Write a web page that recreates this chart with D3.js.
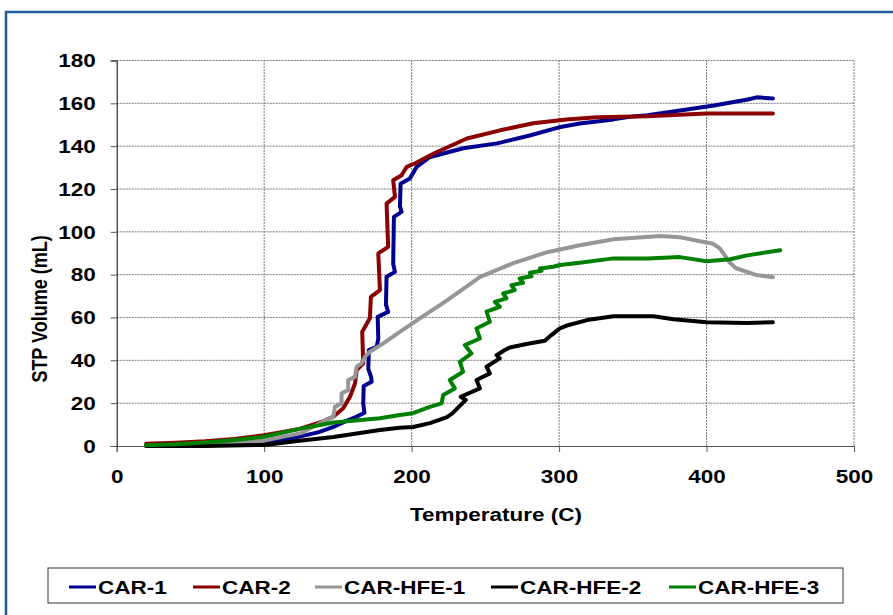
<!DOCTYPE html>
<html><head><meta charset="utf-8">
<script src="https://cdn.jsdelivr.net/npm/d3@7"></script>
<style>body{margin:0;background:#fff;}svg{display:block;font-family:"Liberation Sans",Arial,sans-serif;font-weight:bold;}</style>
</head><body>
<svg id="c" width="893" height="615"></svg>
<script>
// ---- data ----
const seriesNames = ["CAR-1","CAR-2","CAR-HFE-1","CAR-HFE-2","CAR-HFE-3"];
const seriesColors = ["#000090","#8B0000","#969696","#000000","#008000"];

const car1T = [20,40,60,80,100,115,125,137,147,155,162,168,167.2,167.5,172.9,172.5,170.6,171,176.3,177.4,177,184.1,182.6,183,188.7,187.5,188,193.2,192.1,192.5,198.8,203.4,212,235,258,280,300,314,337,350,360,382,405,428,434,445];
const car1V = [0,0,0.3,0.8,1.5,3,4.5,6.5,8.9,11.5,13.5,15.5,19.9,28,30,32.3,36,44.8,46.3,50,60.3,62.6,66,79,81.3,85,107,109.3,112,122.5,124.9,130.3,134.8,139,141.3,145,148.8,150.6,152.5,153.9,154.4,156.7,159,161.8,162.8,162.3];

const car2T = [20,40,60,80,100,124,140,146.9,153.6,158.2,161.6,162.7,167.2,166.5,171.7,172.4,178.5,177.4,184.1,183,188.7,187.5,193.2,196.6,202.2,215,237.5,260,282.5,305,325.5,360,400,445];
const car2V = [1,1.5,2.2,3.3,5,8,11.5,13.7,17.6,23,29.2,35.4,38.6,53.3,59.6,69.6,72.8,89.9,93,113.2,116.3,124.1,126.4,130.3,131.9,136.6,143.6,147.4,150.7,152.5,153.5,154,155.3,155.3];

const hfe1T = [20,60,100,125,137.8,146.9,148,152.5,152.5,157,157,161.6,162.7,166.1,168.3,171.7,180.8,192,205.6,224,246.5,269,292,314,337,368.6,382,400,404,409,416,420,434,445];
const hfe1V = [0,0.5,2.5,6,10.6,13.7,18.3,19.9,24.6,26.1,30.8,32.3,37,38.6,41.6,44,47.9,53.3,59.6,68,79,85.4,90.5,93.7,96.5,98,97.5,95,94.6,92.3,85.4,83,79.8,78.8];

const hfe2T = [20,60,100,124,147,178.5,192,201,212.5,224,227.6,236.7,233.3,246.3,244,253.1,250.8,259.8,257.6,263.2,266.6,277.9,290.3,294.8,300.5,306,319,337,364,377.6,400,427.6,445];
const hfe2V = [0,0,0.5,2.5,4.2,7.5,8.5,8.9,10.7,13.5,15.2,21.5,23,26.9,30.8,33.9,37,40.9,42.4,44.8,46,47.6,49.1,51.8,54.9,56.4,58.8,60.6,60.6,59.2,57.8,57.4,57.8];

const hfe3T = [20,40,60,80,100,124,147,178.5,192,201,212.4,220.3,221.4,229.3,225.9,234.9,232.7,240.6,236.1,246.3,244,253.1,250.8,259.8,256.4,264.3,262.1,270,267.7,275.6,273.3,281.3,280.2,288.1,287,296,300.5,314,337,360,382,400,416,427.6,450];
const hfe3V = [0.3,0.8,1.6,2.8,4.3,8,11,13,14.5,15.3,18.3,19.9,23.8,26.9,30.8,34.7,39.3,43.2,47.1,50.2,54.9,58,62.7,65,67.3,68.9,71.2,72.8,75.1,76.2,78.2,79.3,80.9,81.8,82.9,83.7,84.5,85.6,87.6,87.6,88.2,86.3,87.2,89,91.4];

const xTicks = [0,100,200,300,400,500];
const yTicks = [0,20,40,60,80,100,120,140,160,180];
const xTitle = "Temperature (C)";
const yTitle = "STP Volume (mL)";

const seriesT = [car1T,car2T,hfe1T,hfe2T,hfe3T];
const seriesV = [car1V,car2V,hfe1V,hfe2V,hfe3V];

// ---- drawing ----
const SX = 1.25; // horizontal stretch of the text in the reference
const svg = d3.select("#c");
svg.append("rect").attr("x",6).attr("y",12).attr("width",920).attr("height",640)
  .attr("fill","#fff").attr("stroke","#1F5C99").attr("stroke-width",2.5);

const x = d3.scaleLinear().domain([0,500]).range([116.7,854]);
const y = d3.scaleLinear().domain([0,180]).range([446,60.5]);

// gridlines
const grid = svg.append("g");
grid.selectAll("line.h").data(yTicks.filter(d=>d>0)).join("line")
  .attr("x1",x(0)).attr("x2",x(500)).attr("y1",d=>y(d)).attr("y2",d=>y(d))
  .attr("stroke","#7a7a7a").attr("stroke-width",1).attr("stroke-dasharray","2,1");
grid.selectAll("line.v").data(xTicks.filter(d=>d>0)).join("line")
  .attr("y1",y(0)).attr("y2",y(180)).attr("x1",d=>x(d)).attr("x2",d=>x(d))
  .attr("stroke","#7a7a7a").attr("stroke-width",1).attr("stroke-dasharray","2,1");

// axes
const gx = svg.append("g").attr("transform",`translate(0,${y(0)})`)
  .call(d3.axisBottom(x).tickValues(xTicks).tickSize(6).tickFormat(d3.format("d")));
gx.select(".domain").attr("stroke","#555");
gx.selectAll(".tick line").attr("stroke","#555");
gx.selectAll(".tick text").attr("font-size",18).attr("font-family","Liberation Sans, Arial").attr("font-weight","bold")
  .attr("fill","#000").attr("y",37).attr("dy",0).attr("x",0)
  .attr("transform",`scale(${SX},1)`);

const gy = svg.append("g").attr("transform",`translate(${x(0)},0)`)
  .call(d3.axisLeft(y).tickValues(yTicks).tickSize(6).tickFormat(d3.format("d")));
gy.select(".domain").attr("stroke","#000");
gy.selectAll(".tick line").attr("stroke","#555");
gy.selectAll(".tick text").attr("font-size",18).attr("font-family","Liberation Sans, Arial").attr("font-weight","bold")
  .attr("fill","#000").attr("x",-21/SX).attr("dy","0.35em")
  .attr("transform",`scale(${SX},1)`);

// series
const line = d3.line().x(d=>x(d[0])).y(d=>y(d[1]));
seriesT.forEach((T,i)=>{
  const pts = T.map((t,j)=>[t,seriesV[i][j]]);
  svg.append("path").datum(pts).attr("d",line).attr("fill","none")
    .attr("stroke",seriesColors[i]).attr("stroke-width",4)
    .attr("stroke-linejoin","round").attr("stroke-linecap","round");
});

// axis titles
svg.append("g").attr("transform",`translate(496,521) scale(${SX},1)`)
  .append("text").attr("text-anchor","middle").attr("font-size",18).attr("fill","#000").text(xTitle);
svg.append("g").attr("transform",`translate(47,309) rotate(-90) scale(1,${SX})`)
  .append("text").attr("text-anchor","middle").attr("font-size",18).attr("fill","#000").text(yTitle);

// legend
svg.append("rect").attr("x",48).attr("y",568).attr("width",795).attr("height",35)
  .attr("fill","#fff").attr("stroke","#333").attr("stroke-width",1);
const legX = [69,193,315,491,669];
seriesNames.forEach((n,i)=>{
  svg.append("line").attr("x1",legX[i]).attr("x2",legX[i]+27).attr("y1",587).attr("y2",587)
    .attr("stroke",seriesColors[i]).attr("stroke-width",3);
  svg.append("g").attr("transform",`translate(${legX[i]+29},593.5) scale(${SX},1)`)
    .append("text").attr("font-size",18).attr("fill","#000").text(n);
});
</script>
</body></html>
